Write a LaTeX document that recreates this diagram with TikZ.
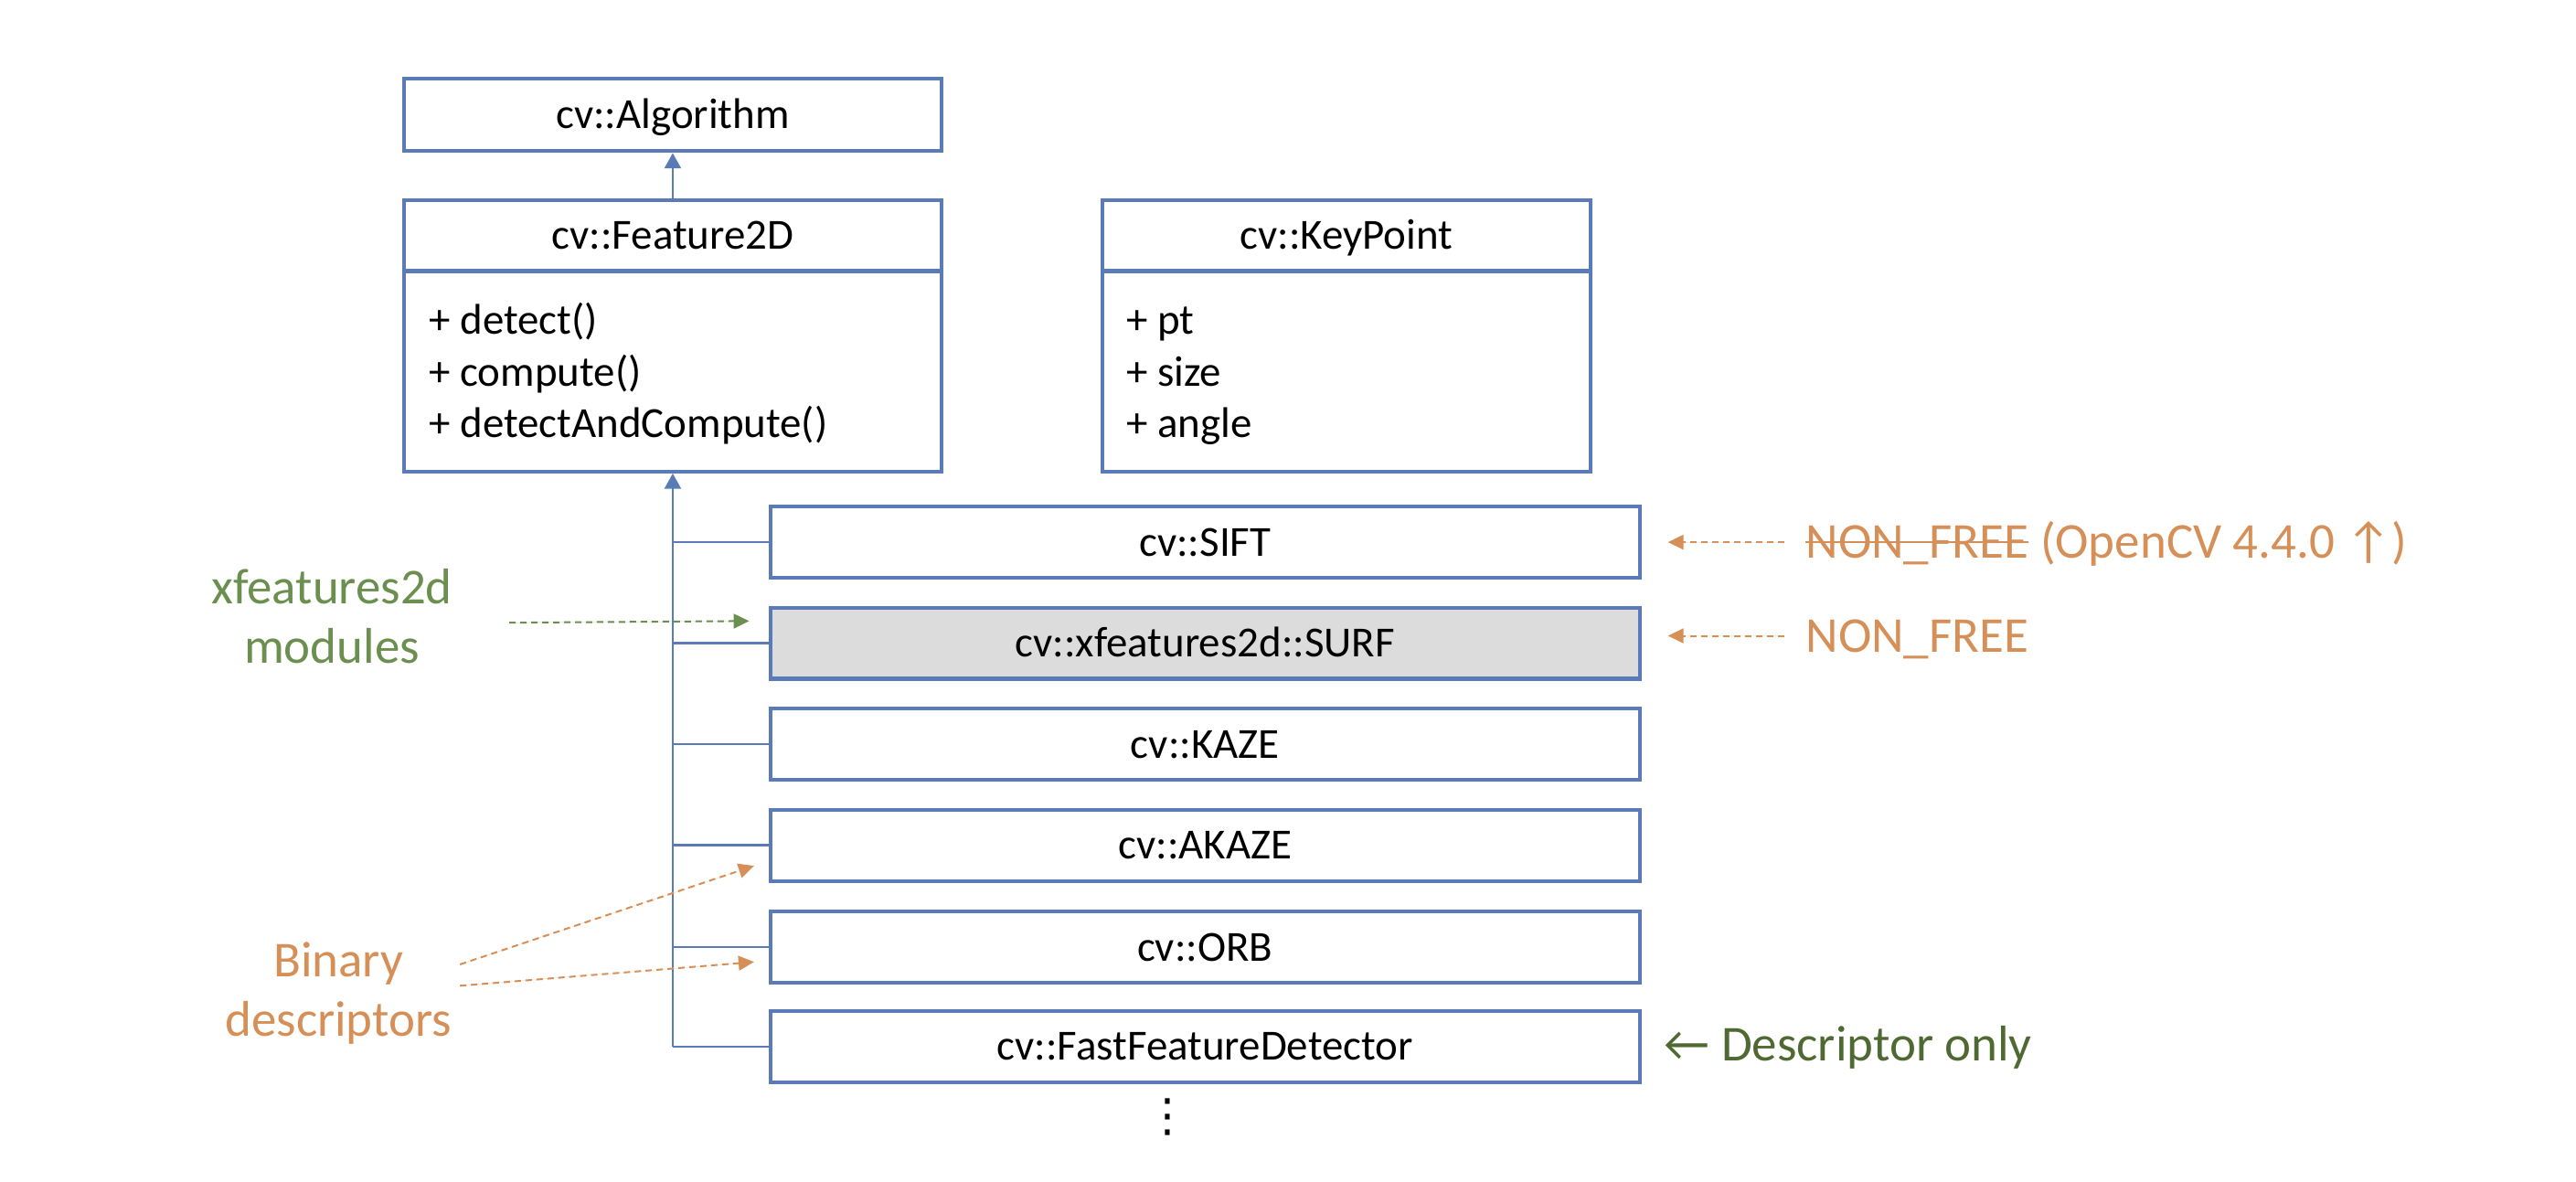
\documentclass[tikz,border=0pt]{standalone}
\usepackage{fontspec}
\setmainfont{Carlito}
\newfontfamily\dejavu{DejaVu Sans}
\usetikzlibrary{arrows.meta}
\definecolor{boxblue}{HTML}{5A7BB8}
\definecolor{annorange}{HTML}{D58F57}
\definecolor{modgreen}{HTML}{6A8F4E}
\definecolor{dkgreen}{HTML}{4F6932}
\definecolor{boxgray}{HTML}{DCDCDC}
\newcommand\boxfont{\fontsize{23.5}{28.35}\selectfont}
\newcommand\annfont{\fontsize{27.5}{33}\selectfont}
\begin{document}
\begin{tikzpicture}[x=0.9pt,y=-0.9pt,
  box/.style={draw=boxblue, line width=2.1pt, inner sep=0pt, font=\boxfont,
    text height=19.7pt, text depth=4.7pt},
  classbox/.style={box, minimum width=476.1pt, minimum height=39pt},
  txt/.style={inner sep=0pt, font=\boxfont, text height=19.7pt, text depth=4.7pt},
  ann/.style={inner sep=0pt, font=\annfont, text height=23.1pt, text depth=5.5pt},
  divider/.style={draw=boxblue, line width=2.1pt},
  conn/.style={draw=boxblue, line width=1.2pt},
  inherit/.style={conn, -{Triangle[length=8.4pt,width=9pt]}, fill=boxblue},
  darrow/.style={line width=1pt, dash pattern=on 3.5pt off 2.5pt,
    -{Triangle[length=8.5pt,width=8pt]}},
]
\fill[white] (0,0) rectangle (1568,719);
\useasboundingbox (0,0) rectangle (1568,719);

% classes
\node[box, minimum width=294.3pt, minimum height=39.6pt] (alg) at (409.5,70) {cv::Algorithm};

\node[box, minimum width=294.3pt, minimum height=148.5pt] (f2d) at (409.5,204.5) {};
\draw[divider] (f2d.west |- 0,165) -- (f2d.east |- 0,165);
\node[txt] (f2dt) at (409.5,143.5) {cv::Feature2D};
\node[txt, anchor=west] (f2dm1) at (261,195) {+ detect()};
\node[txt, anchor=west] (f2dm2) at (261,226.5) {+ compute()};
\node[txt, anchor=west] (f2dm3) at (261,258) {+ detectAndCompute()};

\node[box, minimum width=267.3pt, minimum height=148.5pt] (kp) at (819.5,204.5) {};
\draw[divider] (kp.west |- 0,165) -- (kp.east |- 0,165);
\node[txt] (kpt) at (819.5,143.5) {cv::KeyPoint};
\node[txt, anchor=west] (kpm1) at (685.5,195) {+ pt};
\node[txt, anchor=west] (kpm2) at (685.5,226.5) {+ size};
\node[txt, anchor=west] (kpm3) at (685.5,258) {+ angle};

\node[classbox] (sift) at (733.5,330) {cv::SIFT};
\node[classbox, fill=boxgray] (surf) at (733.5,391.5) {cv::xfeatures2d::SURF};
\node[classbox] (kaze) at (733.5,453) {cv::KAZE};
\node[classbox] (akaze) at (733.5,514.5) {cv::AKAZE};
\node[classbox] (orb) at (733.5,576.5) {cv::ORB};
\node[classbox] (fast) at (733.5,637) {cv::FastFeatureDetector};
\node[inner sep=0pt, font=\dejavu\fontsize{25}{25}\selectfont] (dots) at (711,680) {⋮};

% inheritance
\draw[inherit] (f2d.north) -- (alg.south);
\coordinate (trunkend) at (f2d.south |- fast.west);
\draw[inherit] (trunkend) -- (f2d.south);
\foreach \n in {sift,surf,kaze,akaze,orb,fast}
  \draw[conn] (f2d.south |- \n.west) -- (\n.west);

% annotations
\node[ann, text=annorange, anchor=west] (nf1a) at (1099,330) {NON\_FREE};
\node[ann, text=annorange, anchor=west] (nf1b) at ([xshift=6.2pt]nf1a.east) {(OpenCV 4.4.0 ↑)};
\draw[annorange, line width=1.1pt] (nf1a.west) -- (nf1a.east);
\node[ann, text=annorange, anchor=west] (nf2) at (1099,387) {NON\_FREE};
\draw[darrow, draw=annorange, fill=annorange, shorten <=11.5pt, shorten >=14.5pt]
  (nf1a.west) -- (sift.east |- nf1a.west);
\draw[darrow, draw=annorange, fill=annorange, shorten <=11.5pt, shorten >=14.5pt]
  (nf2.west) -- (surf.east |- nf2.west);

\node[ann, text=modgreen] (xf1) at (202,358) {xfeatures2d};
\node[ann, text=modgreen] (xf2) at (202,394) {modules};
\coordinate (xfs) at (310,379);
\coordinate (xft) at (456,378);
\draw[darrow, draw=modgreen, fill=modgreen] (xfs) -- (xft);

\node[ann, text=annorange] (bd1) at (206,585) {Binary};
\node[ann, text=annorange] (bd2) at (206,621) {descriptors};
\coordinate (bs1) at (280,587);
\coordinate (bt1) at (459,527);
\coordinate (bs2) at (280,600);
\coordinate (bt2) at (459,585.5);
\draw[darrow, draw=annorange, fill=annorange] (bs1) -- (bt1);
\draw[darrow, draw=annorange, fill=annorange] (bs2) -- (bt2);

\node[ann, text=dkgreen, anchor=west] (desc) at (1013,636) {← Descriptor only};
\end{tikzpicture}
\end{document}
